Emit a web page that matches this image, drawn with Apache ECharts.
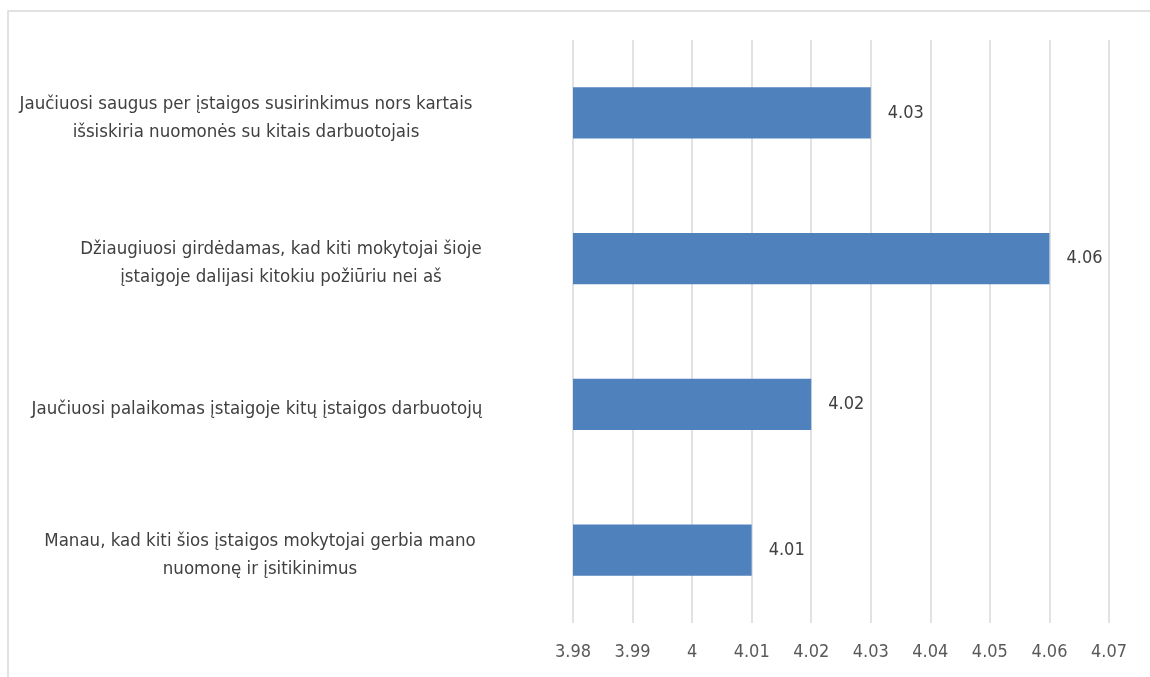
<!DOCTYPE html>
<html>
<head>
<meta charset="utf-8">
<script src="https://cdn.jsdelivr.net/npm/echarts@6/dist/echarts.min.js"></script>
<style>
  html, body { margin: 0; padding: 0; background: #fff; }
  #chart { width: 1150px; height: 677px; }
</style>
</head>
<body>
<div id="chart"></div>
<script>
// top to bottom
const categories = [
  'Jaučiuosi saugus per įstaigos susirinkimus nors kartais\nišsiskiria nuomonės su kitais darbuotojais',
  'Džiaugiuosi girdėdamas, kad kiti mokytojai šioje\nįstaigoje dalijasi kitokiu požiūriu nei aš',
  'Jaučiuosi palaikomas įstaigoje kitų įstaigos darbuotojų',
  'Manau, kad kiti šios įstaigos mokytojai gerbia mano\nnuomonę ir įsitikinimus'
]
const values = [4.03, 4.06, 4.02, 4.01]
// excel puts the label blocks a bit unevenly, shift each one
const labelPad = [59, 24, 48, 45]

const font = '"DejaVu Sans Condensed", "Liberation Sans", sans-serif'

const chart = echarts.init(document.getElementById('chart'))
chart.setOption({
  animation: false,
  grid: { left: 573, right: 41, top: 40, bottom: 54, outerBoundsMode: 'none', containLabel: false },
  graphic: [
    {
      type: 'rect',
      shape: { x: 8, y: 11, width: 1300, height: 800 },
      style: { fill: 'none', stroke: '#d9d9d9', lineWidth: 1.5 },
      silent: true
    }
  ],
  xAxis: {
    type: 'value',
    min: 3.98,
    max: 4.07,
    interval: 0.01,
    axisLine: { show: false },
    axisTick: { show: false },
    splitLine: { lineStyle: { color: '#d9d9d9', width: 1.5 } },
    axisLabel: {
      margin: 20,
      fontFamily: font,
      fontSize: 18,
      color: '#595959',
      formatter: v => String(+v.toFixed(2))
    }
  },
  yAxis: {
    type: 'category',
    inverse: true,
    data: categories.map((c, i) => ({
      value: c,
      textStyle: { padding: [10, labelPad[i], 0, 0] }
    })),
    axisLine: { show: false },
    axisTick: { show: false },
    axisLabel: {
      margin: 18,
      align: 'right',
      formatter: v => v.split('\n').map(s => '{t|' + s + '}').join('\n'),
      rich: {
        t: {
          width: 500,
          align: 'center',
          fontFamily: font,
          fontSize: 18.5,
          lineHeight: 28,
          color: '#404040'
        }
      }
    }
  },
  series: [
    {
      type: 'bar',
      data: values,
      barCategoryGap: '65%',
      itemStyle: { color: '#4f81bd' },
      label: {
        show: true,
        position: 'right',
        distance: 17,
        fontFamily: font,
        fontSize: 18,
        color: '#404040'
      }
    }
  ]
})
</script>
</body>
</html>
